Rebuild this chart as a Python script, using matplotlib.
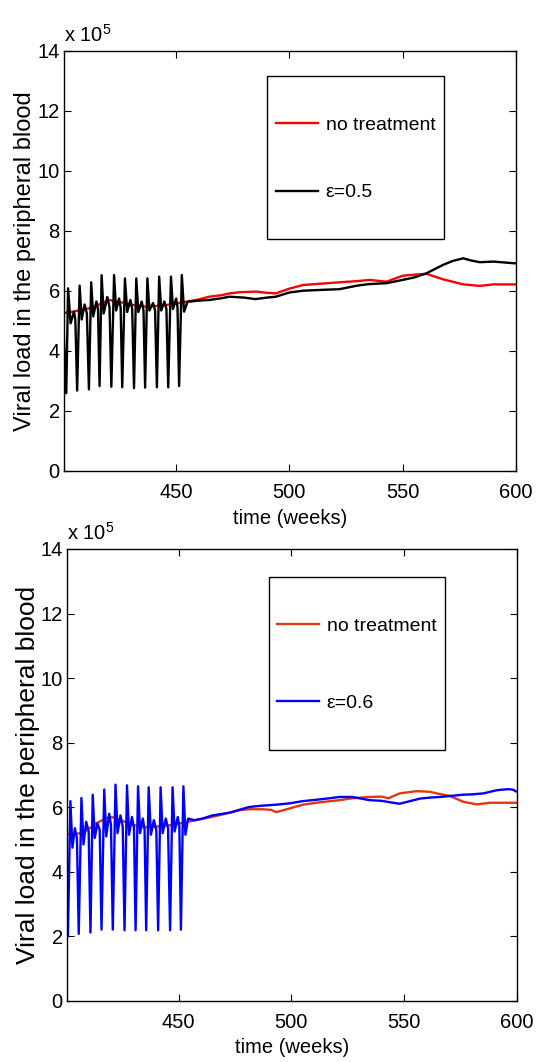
import matplotlib
matplotlib.use("Agg")
import matplotlib.pyplot as plt
from matplotlib.patches import Rectangle

plt.rcParams['font.family'] = ['Liberation Sans', 'DejaVu Sans']
plt.rcParams['mathtext.default'] = 'regular'

# ---------------- data (viral load in units of 1e5) ----------------
# top panel: no treatment (red)
t_red_top = [400, 405, 411.5, 416, 420.4, 424, 427.7, 432, 436.6, 441, 445.4, 450, 454.3,
             460, 464.6, 470, 473.5, 478, 485.3, 490, 494, 500, 506, 515, 522, 530, 535.4,
             542.8, 550, 556, 560.5, 567.8, 576.7, 584, 590, 600]
v_red_top = [5.26, 5.32, 5.42, 5.55, 5.70, 5.65, 5.59, 5.52, 5.48, 5.50, 5.53, 5.58, 5.64,
             5.72, 5.81, 5.86, 5.92, 5.96, 5.98, 5.94, 5.92, 6.08, 6.20, 6.25, 6.29, 6.33, 6.37,
             6.31, 6.51, 6.55, 6.57, 6.39, 6.22, 6.17, 6.22, 6.22]

# top panel: epsilon = 0.5 (black)
t_eps05 = [400.0, 401.5, 402.3, 403.4, 404.9, 405.5, 406.3, 407.4, 408.3, 409.6, 410.6,
           411.5, 412.5, 413.4, 414.8, 415.5, 416.2, 417.1, 418.0, 419.6, 420.6,
           421.4, 422.6, 423.5, 424.8, 425.5, 426.2, 427.4, 428.4, 429.8, 430.6,
           431.4, 432.4, 433.3, 434.8, 435.6, 436.3, 437.3, 438.2, 439.8, 440.7,
           441.5, 442.5, 443.4, 444.8, 445.7, 446.5, 447.7, 448.6, 450.0, 450.6,
           451.3, 452.5, 453.5, 455.0,
           460, 464.6, 470, 473.5, 480, 485, 490, 494, 500, 506, 515, 522, 530, 535,
           542.8, 550, 555, 560.5, 567.8, 572, 576.7, 580, 584, 590, 595, 600]
v_eps05 = [5.25, 2.59, 6.09, 4.92, 5.31, 5.05, 2.68, 6.18, 5.05, 5.55, 5.25,
           2.72, 6.29, 5.15, 5.65, 5.40, 2.83, 6.53, 5.25, 5.80, 5.45,
           2.81, 6.53, 5.35, 5.75, 5.45, 2.79, 6.42, 5.30, 5.70, 5.40,
           2.76, 6.42, 5.30, 5.65, 5.35, 2.78, 6.42, 5.35, 5.60, 5.35,
           2.79, 6.48, 5.35, 5.65, 5.40, 2.79, 6.48, 5.40, 5.75, 5.45,
           2.83, 6.53, 5.31, 5.64,
           5.68, 5.70, 5.76, 5.81, 5.78, 5.73, 5.78, 5.81, 5.95, 6.01, 6.04, 6.06, 6.18, 6.23,
           6.26, 6.37, 6.45, 6.59, 6.87, 7.00, 7.09, 7.02, 6.96, 6.98, 6.95, 6.92]

# bottom panel: no treatment (orange-red)
t_red_bot = [400, 405, 408, 413.1, 419, 422, 426.4, 430, 435.3, 440, 445.7, 449, 453.1,
             460.5, 466, 472.4, 476.9, 481.3, 487, 491, 493.2, 497, 505, 512, 521.4, 527,
             534.7, 540, 543, 548, 555.5, 561.4, 565, 570.3, 576.2, 582.2, 588, 600]
v_red_bot = [5.18, 5.18, 5.22, 5.49, 5.70, 5.68, 5.54, 5.45, 5.38, 5.40, 5.44, 5.48, 5.54,
             5.64, 5.72, 5.83, 5.91, 5.94, 5.94, 5.92, 5.85, 5.92, 6.08, 6.15, 6.22, 6.28,
             6.32, 6.33, 6.28, 6.43, 6.50, 6.48, 6.42, 6.35, 6.17, 6.09, 6.14, 6.14]

# bottom panel: epsilon = 0.6 (blue)
t_eps06 = [400.0, 400.9, 402.0, 402.9, 404.0, 404.9, 405.7, 406.9, 407.8, 409.0, 410.1,
           410.9, 411.9, 412.8, 414.0, 415.0, 415.8, 417.0, 417.9, 419.2, 420.0,
           420.8, 422.0, 422.9, 424.2, 425.2, 426.0, 427.1, 428.0, 429.3, 430.2,
           430.9, 432.0, 432.9, 434.1, 434.9, 435.6, 436.7, 437.7, 439.0, 440.1,
           440.9, 442.0, 442.9, 444.3, 445.3, 446.2, 447.3, 448.2, 449.6, 450.3,
           451.0, 452.1, 453.0, 454.2,
           457, 460.5, 465, 472.4, 481.3, 487, 493.2, 499, 505, 512, 517, 521.4, 527, 530,
           534.7, 540, 545, 548, 552.5, 557, 561.4, 566, 570.3, 576.2, 580, 585.1, 591.1,
           595.6, 598, 600]
v_eps06 = [5.20, 2.00, 6.19, 4.75, 5.35, 5.05, 2.08, 6.29, 4.85, 5.55, 5.25,
           2.12, 6.39, 5.05, 5.50, 5.30, 2.21, 6.55, 5.10, 5.80, 5.45,
           2.21, 6.70, 5.20, 5.75, 5.40, 2.19, 6.68, 5.15, 5.70, 5.35,
           2.19, 6.65, 5.20, 5.65, 5.30, 2.19, 6.62, 5.15, 5.60, 5.30,
           2.19, 6.62, 5.20, 5.65, 5.35, 2.19, 6.62, 5.25, 5.70, 5.40,
           2.21, 6.65, 5.15, 5.65,
           5.60, 5.65, 5.75, 5.83, 6.01, 6.05, 6.08, 6.12, 6.19, 6.24, 6.28, 6.32, 6.32, 6.28,
           6.22, 6.20, 6.14, 6.11, 6.19, 6.27, 6.30, 6.32, 6.35, 6.39, 6.40, 6.43, 6.53,
           6.56, 6.55, 6.48]

x_ticks = [450, 500, 550, 600]
y_ticks = [0, 2, 4, 6, 8, 10, 12, 14]
label_nt = 'no treatment'
label_05 = '\u03b5=0.5'
label_06 = '\u03b5=0.6'

# ---------------- figure ----------------
fig = plt.figure(figsize=(5.36, 10.62), dpi=100)
ax1 = fig.add_axes([64/536, (1062-471)/1062, 452/536, 420/1062])
ax2 = fig.add_axes([67/536, (1062-1001)/1062, 450/536, 452/1062])

panels = [
    (ax1, t_red_top, v_red_top, '#ff0000', label_nt, t_eps05, v_eps05, '#000000', label_05,
     (0.449, 0.552, 0.392, 0.388), (0.469, 0.743), 2.55, 17, 1, 5),
    (ax2, t_red_bot, v_red_bot, '#e2380f', label_nt, t_eps06, v_eps06, '#0000ff', label_06,
     (0.449, 0.556, 0.392, 0.382), (0.467, 0.744), 3.05, 19, 0, 4),
]

for (ax, tr, vr, cr, lr, te, ve, ce, le, box, legpos, lspace, ylfs, ylpad, xlpad) in panels:
    ax.plot(tr, vr, color=cr, lw=1.7, label=lr)
    ax.plot(te, ve, color=ce, lw=1.7, label=le)
    ax.set_xlim(400.5, 600)
    ax.set_ylim(0, 14)
    ax.set_xticks(x_ticks)
    ax.set_yticks(y_ticks)
    ax.tick_params(direction='in', top=True, right=True, length=5, width=0.8,
                   labelsize=14.5)
    ax.tick_params(axis='x', pad=9)
    ax.tick_params(axis='y', pad=3)
    for s in ax.spines.values():
        s.set_linewidth(1.0)
    ax.set_xlabel('time (weeks)', fontsize=14.5, labelpad=xlpad)
    ax.set_ylabel('Viral load in the peripheral blood', fontsize=ylfs, labelpad=ylpad)
    ax.text(0.0, 1.012, r'x 10$^{5}$', transform=ax.transAxes, fontsize=14.5,
            ha='left', va='bottom')
    ax.add_patch(Rectangle((box[0], box[1]), box[2], box[3], transform=ax.transAxes,
                           fill=False, edgecolor='black', lw=1.0, zorder=5))
    ax.legend(loc='center left', bbox_to_anchor=legpos, frameon=False, fontsize=14,
              handlelength=2.15, handletextpad=0.4, labelspacing=lspace,
              borderpad=0, borderaxespad=0)

fig.savefig('out.png', dpi=100)
